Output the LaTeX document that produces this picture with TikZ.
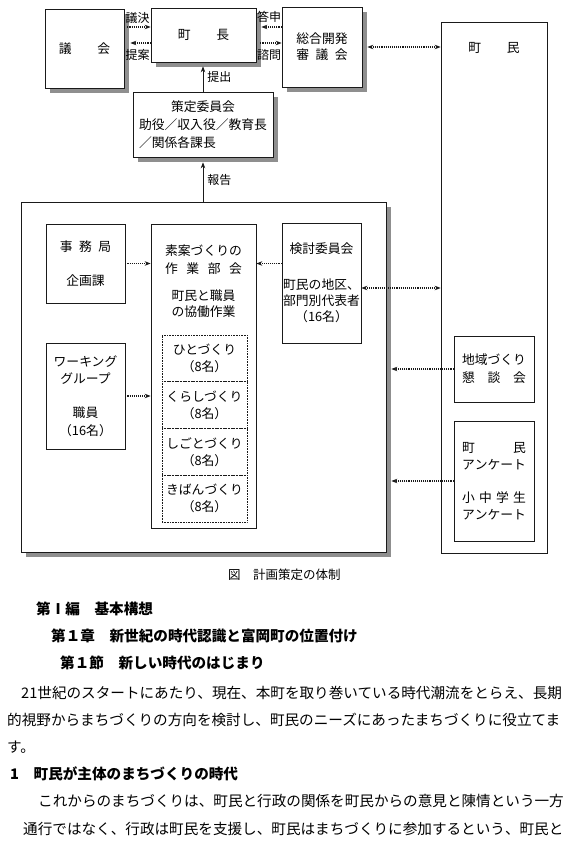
\documentclass[tikz,border=0pt]{standalone}
\usepackage{fontspec}
\setmainfont{Noto Sans CJK JP}
\usepackage{tikz}
\usetikzlibrary{arrows.meta,positioning}
\definecolor{scanink}{HTML}{1A1A1A}
\definecolor{scanshade}{HTML}{8F8F8F}
\newcommand{\spread}[2]{\makebox[#1][s]{#2}}

\begin{document}
\begin{tikzpicture}[
  x=1pt,y=-1pt,
  font=\fontsize{12.8pt}{16pt}\selectfont,
  >={Stealth[length=6pt,width=4.5pt]},
  box/.style={draw=scanink,line width=0.7pt,fill=white,align=center,inner sep=2pt},
  shadowbox/.style={fill=scanshade,draw=none,inner sep=0pt},
  cell/.style={draw=scanink,densely dotted,line width=0.6pt,align=center,
    minimum width=85pt,minimum height=46.75pt,inner sep=0pt,outer sep=0pt},
  link/.style={->,draw=scanink,densely dotted,line width=1.1pt},
  uplink/.style={->,draw=scanink,line width=0.7pt},
  lbl/.style={font=\fontsize{12pt}{14pt}\selectfont,inner sep=1pt},
  txt/.style={align=center,inner sep=0pt},
  bodyline/.style={anchor=base west,inner sep=0pt,
    font=\fontsize{14.6pt}{17pt}\selectfont},
  headline/.style={bodyline,font=\fontsize{14.6pt}{17pt}\selectfont\bfseries}
]
  \useasboundingbox (0,0) rectangle (581,848);

  % halftone shadows, laid down first
  \fill[scanshade] (50,14) rectangle (129,93);
  \fill[scanshade] (156,13) rectangle (261,67);
  \fill[scanshade] (287,12) rectangle (367,92);
  \fill[scanshade] (138,97) rectangle (278,162);
  \fill[scanshade] (26,207) rectangle (391,557);

  % top row: council, mayor, planning council, residents
  \node[box,minimum width=79pt,minimum height=79pt] (gikai) at (84.5,48.5)
    {議　　会};
  \node[box,minimum width=105pt,minimum height=54pt] (chocho) at (203.5,35)
    {町　　長};
  \node[box,minimum width=80pt,minimum height=80pt] (shingikai) at (322,47)
    {総合開発\\\spread{4em}{審\hfil 議\hfil 会}};
  \node[box,minimum width=106pt,minimum height=531pt] (chomin) at (494,287.5) {};
  \node[txt] (chominttl) at (494,48) {町　　民};
  \node[box,minimum width=140pt,minimum height=65pt,align=left] (sakutei)
    at (203,124.5)
    {\makebox[10em]{策定委員会}\\[2pt]助役／収入役／教育長\\[2pt]／関係各課長};

  \draw[link,shorten <=3pt] ([yshift=8pt]chocho.west -| gikai.east)
    -- node[lbl,above=2pt] (giketsu) {議決} ([yshift=8pt]chocho.west);
  \draw[link,shorten >=6pt] ([yshift=-8pt]chocho.west)
    -- node[lbl,below=5pt] (teian) {提案} ([yshift=-8pt]chocho.west -| gikai.east);
  \draw[link,shorten >=5pt] ([yshift=8pt]chocho.east -| shingikai.west)
    -- node[lbl,above=3pt] (toshin) {答申} ([yshift=8pt]chocho.east);
  \draw[link,shorten <=4pt] ([yshift=-8pt]chocho.east)
    -- node[lbl,below=5pt] (shimon) {諮問} ([yshift=-8pt]chocho.east -| shingikai.west);
  \draw[link,<->,shorten <=5pt] (shingikai.east) -- (shingikai.east -| chomin.west);
  \draw[uplink,shorten >=4pt] (sakutei.north)
    -- node[lbl,right=3pt] (teishutsu) {提出} (sakutei.north |- chocho.south);

  % working frame
  \node[box,minimum width=365pt,minimum height=350pt] (waku) at (203.5,377) {};
  \draw[uplink,shorten >=5pt] (sakutei.south |- waku.north)
    -- node[lbl,right=3pt] (hokoku) {報告} (sakutei.south);
  \node[box,minimum width=79pt,minimum height=79pt] (jimu) at (85.5,263.5)
    {\spread{4em}{事\hfil 務\hfil 局}\\[18pt]企画課};
  \node[box,minimum width=79pt,minimum height=106pt] (working) at (85.5,396)
    {ワーキング\\[1pt]グループ\\[18pt]職員\\[2pt]（16名）};
  \node[box,minimum width=105pt,minimum height=304pt] (soan) at (203.5,376) {};
  \node[txt] (soanttl) at (203.5,281.5)
    {素案づくりの\\[2pt]\spread{6em}{作\hfil 業\hfil 部\hfil 会}\\[11pt]町民と職員\\の協働作業};
  \node[cell] (hito) at (204.5,358.4) {ひとづくり\\[1pt]（8名）};
  \node[cell,below=0pt of hito] (kurashi) {くらしづくり\\[1pt]（8名）};
  \node[cell,below=0pt of kurashi] (shigoto) {しごとづくり\\[1pt]（8名）};
  \node[cell,below=0pt of shigoto] (kiban) {きばんづくり\\[1pt]（8名）};
  \node[box,inner xsep=0pt,minimum width=79pt,minimum height=120pt] (kento)
    at (321.5,283) {検討委員会\\[20pt]町民の地区、\\部門別代表者\\（16名）};

  % residents side
  \node[box,minimum width=80pt,minimum height=66pt] (chiiki) at (494,369)
    {地域づくり\\[2pt]\spread{5em}{懇\hfil 談\hfil 会}};
  \node[box,minimum width=80pt,minimum height=120pt] (anketo) at (494,481)
    {\spread{5em}{町\hfil 民}\\[1pt]\spread{5em}{ア\hfil ン\hfil ケ\hfil ー\hfil ト}\\[17pt]%
     \spread{5em}{小\hfil 中\hfil 学\hfil 生}\\[1pt]\spread{5em}{ア\hfil ン\hfil ケ\hfil ー\hfil ト}};

  \draw[link] (jimu.east) -- (jimu.east -| soan.west);
  \draw[link] (working.east) -- (working.east -| soan.west);
  \draw[link] (kento.west |- jimu.east) -- (soan.east |- jimu.east);
  \draw[link,<->] ([yshift=-5pt]kento.east) -- ([yshift=-5pt]kento.east -| chomin.west);
  \draw[link,shorten >=5pt] (chiiki.west) -- (chiiki.west -| waku.east);
  \draw[link,shorten >=5pt] (anketo.west) -- (anketo.west -| waku.east);

  % caption and text
  \node[anchor=base west,inner sep=0pt,font=\fontsize{12.5pt}{15pt}\selectfont]
    (caption) at (228,579.8) {図　計画策定の体制};
  \node[headline] (hen) at (36,614) {第Ⅰ編　基本構想};
  \node[headline] (sho) at (51,641.5) {第１章　新世紀の時代認識と富岡町の位置付け};
  \node[headline] (setsu) at (60,668.5) {第１節　新しい時代のはじまり};
  \node[bodyline] (p1a) at (21,698.5)
    {21世紀のスタートにあたり、現在、本町を取り巻いている時代潮流をとらえ、長期};
  \node[bodyline] (p1b) at (7,725.5)
    {的視野からまちづくりの方向を検討し、町民のニーズにあったまちづくりに役立てま};
  \node[bodyline] (p1c) at (7,752.5) {す。};
  \node[headline] (kou) at (10,779.5) {1　町民が主体のまちづくりの時代};
  \node[bodyline] (p2a) at (38,806.5)
    {これからのまちづくりは、町民と行政の関係を町民からの意見と陳情という一方};
  \node[bodyline] (p2b) at (23,834.5)
    {通行ではなく、行政は町民を支援し、町民はまちづくりに参加するという、町民と};
\end{tikzpicture}
\end{document}
